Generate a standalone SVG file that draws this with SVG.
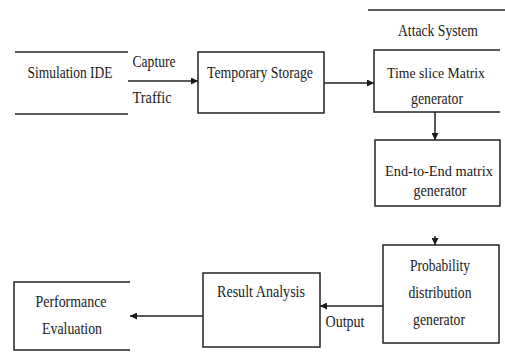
<svg xmlns="http://www.w3.org/2000/svg" width="505" height="362" viewBox="0 0 505 362">
<defs>
<marker id="ah" viewBox="0 0 10 10" refX="10" refY="5" markerWidth="7" markerHeight="7" markerUnits="userSpaceOnUse" orient="auto">
<path d="M0,0 L10,5 L0,10 z" fill="#1a1a1a"/>
</marker>
<style>
.s{fill:none;stroke:#222;stroke-width:1.5}
.t{font-family:'Liberation Serif','DejaVu Serif',serif;font-size:17px;fill:#1a1a1a;text-anchor:middle}
.n{font-size:15px}
.c{fill:none;stroke:#222;stroke-width:1.5}
</style>
</defs>
<rect width="505" height="362" fill="#fff"/>
<g id="simulation-ide">
<line class="s" x1="15" y1="52" x2="128" y2="52"/>
<line class="s" x1="15" y1="114" x2="128" y2="114"/>
<text class="t" x="70" y="78" textLength="85" lengthAdjust="spacingAndGlyphs">Simulation IDE</text>
</g>
<g id="temporary-storage">
<rect class="s" x="198" y="52" width="126" height="61"/>
<text class="t" x="260" y="78" textLength="106" lengthAdjust="spacingAndGlyphs">Temporary Storage</text>
</g>
<g id="attack-system">
<line class="s" x1="368" y1="10" x2="505" y2="10"/>
<text class="t" x="438" y="36" textLength="80" lengthAdjust="spacingAndGlyphs">Attack System</text>
</g>
<g id="time-slice">
<path class="s" d="M500,50 H374 V112 H500"/>
<text class="t n" x="436" y="78" textLength="98" lengthAdjust="spacingAndGlyphs">Time slice Matrix</text>
<text class="t" x="437" y="104" textLength="52" lengthAdjust="spacingAndGlyphs">generator</text>
</g>
<g id="end-to-end">
<rect class="s" x="375" y="140" width="125" height="66"/>
<text class="t n" x="439" y="176" textLength="108" lengthAdjust="spacingAndGlyphs">End-to-End matrix</text>
<text class="t" x="440" y="196" textLength="53" lengthAdjust="spacingAndGlyphs">generator</text>
</g>
<g id="probability">
<rect class="s" x="383" y="245" width="116" height="98"/>
<text class="t" x="440" y="271" textLength="60" lengthAdjust="spacingAndGlyphs">Probability</text>
<text class="t" x="440" y="298" textLength="63" lengthAdjust="spacingAndGlyphs">distribution</text>
<text class="t" x="439" y="325" textLength="52" lengthAdjust="spacingAndGlyphs">generator</text>
</g>
<g id="result-analysis">
<rect class="s" x="203" y="273" width="117" height="74"/>
<text class="t" x="261" y="297" textLength="88" lengthAdjust="spacingAndGlyphs">Result Analysis</text>
</g>
<g id="performance-evaluation">
<path class="s" d="M130,282 H14 V350 H130"/>
<text class="t" x="71" y="307" textLength="71" lengthAdjust="spacingAndGlyphs">Performance</text>
<text class="t" x="72" y="334" textLength="60" lengthAdjust="spacingAndGlyphs">Evaluation</text>
</g>
<g id="connectors">
<line class="c" x1="128" y1="81" x2="198" y2="81" marker-end="url(#ah)"/>
<text class="t" x="154" y="67" textLength="43" lengthAdjust="spacingAndGlyphs">Capture</text>
<text class="t" x="152" y="103" textLength="39" lengthAdjust="spacingAndGlyphs">Traffic</text>
<line class="c" x1="324" y1="83" x2="374" y2="83" marker-end="url(#ah)"/>
<line class="c" x1="435" y1="112" x2="435" y2="140" marker-end="url(#ah)"/>
<line class="c" x1="435" y1="236" x2="435" y2="245" marker-end="url(#ah)"/>
<line class="c" x1="383" y1="306" x2="320" y2="306" marker-end="url(#ah)"/>
<text class="t" x="345" y="327" textLength="39" lengthAdjust="spacingAndGlyphs">Output</text>
<line class="c" x1="203" y1="316" x2="130" y2="316" marker-end="url(#ah)"/>
</g>
</svg>
